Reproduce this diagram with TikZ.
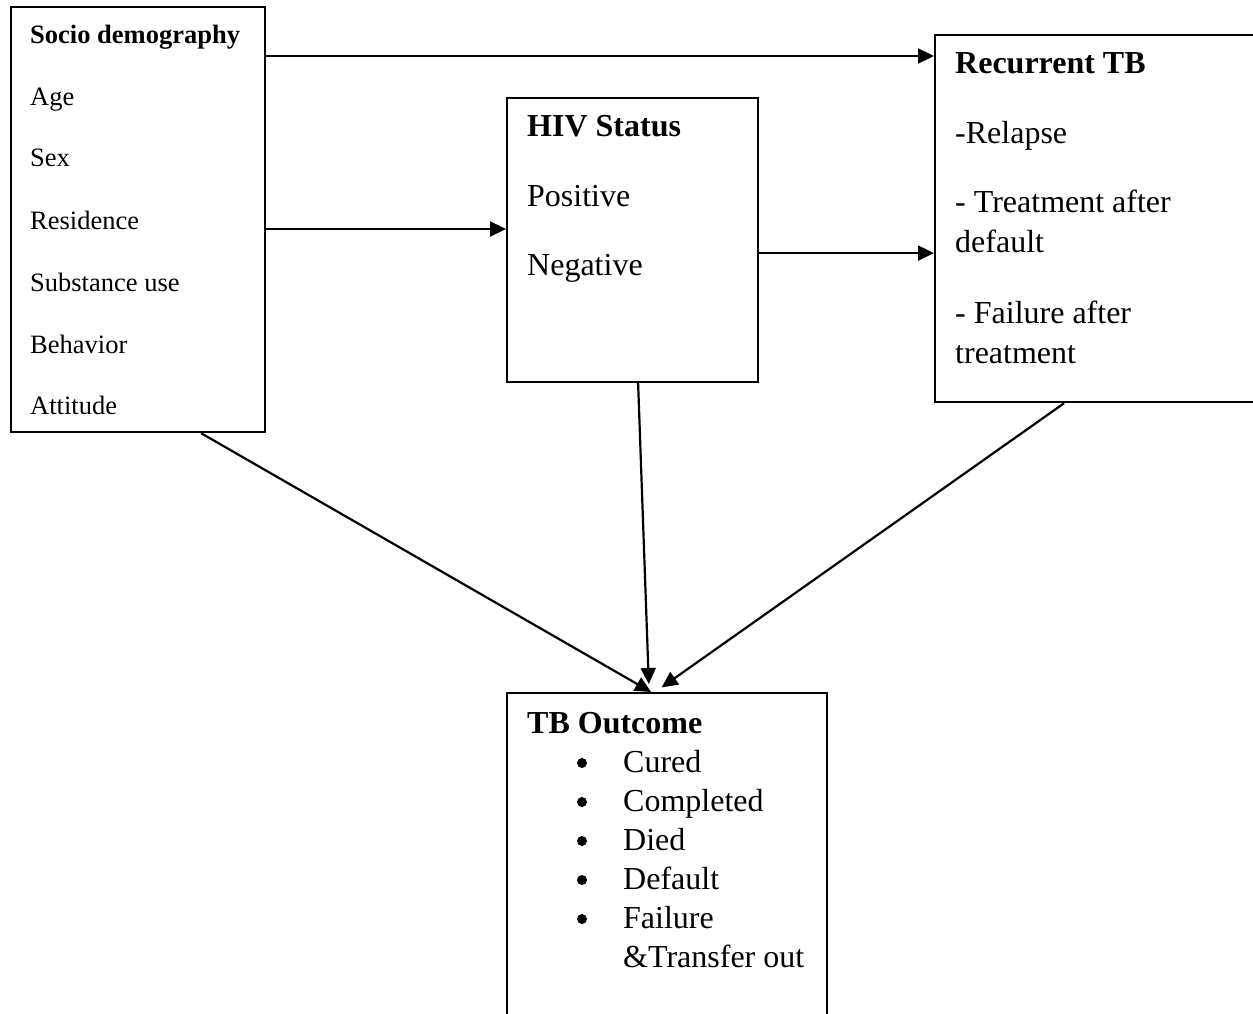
\documentclass[tikz,border=0pt]{standalone}
\usepackage{fontspec}
\setmainfont{Liberation Serif}
\usetikzlibrary{arrows.meta,calc}
\tikzset{
  box/.style={draw=black, line width=2.2pt, anchor=north west, inner sep=0pt},
  lbl/.style={anchor=base west, inner sep=0pt, font=\fontsize{32}{36}\selectfont},
  slbl/.style={anchor=base west, inner sep=0pt, font=\fontsize{26.5}{30}\selectfont},
  conn/.style={line width=2.2pt, -{Triangle[length=16pt,width=15pt]}},
  bul/.style={circle, fill=black, inner sep=0pt, minimum size=10pt},
}
\begin{document}
\begin{tikzpicture}[x=1pt,y=-1pt]
\useasboundingbox (0,0) rectangle (1253,1014);
\clip (0,0) rectangle (1253,1014);
\fill[white] (0,0) rectangle (1253,1014);
% boxes
\node[box, minimum width=254pt, minimum height=425pt] (soc) at (10,6) {};
\node[box, minimum width=251pt, minimum height=284pt] (hiv) at (506,97) {};
\node[box, minimum width=330pt, minimum height=367pt] (rec) at (934,34) {};
\node[box, minimum width=320pt, minimum height=340pt] (out) at (506,692) {};
% socio text
\node[slbl, font=\fontsize{26.5}{30}\selectfont\bfseries] (s0) at (30,44) {Socio demography};
\node[slbl] (s1) at (30,105.5) {Age};
\node[slbl] (s2) at (30,167) {Sex};
\node[slbl] (s3) at (30,229) {Residence};
\node[slbl] (s4) at (30,291) {Substance use};
\node[slbl] (s5) at (30,353) {Behavior};
\node[slbl] (s6) at (30,414) {Attitude};
% HIV text
\node[lbl, font=\fontsize{32}{36}\selectfont\bfseries] (h0) at (527,137) {HIV Status};
\node[lbl] (h1) at (527,206) {Positive};
\node[lbl] (h2) at (527,275) {Negative};
% recurrent text
\node[lbl, font=\fontsize{32}{36}\selectfont\bfseries] (r0) at (955,74) {Recurrent TB};
\node[lbl] (r1) at (955,143) {-Relapse};
\node[lbl] (r2) at (955,212) {- Treatment after};
\node[lbl] (r3) at (955,252) {default};
\node[lbl] (r4) at (955,323) {- Failure after};
\node[lbl] (r5) at (955,363) {treatment};
% outcome text
\node[lbl, font=\fontsize{32}{36}\selectfont\bfseries] (o0) at (527,733) {TB Outcome};
\foreach \i/\t/\yy in {1/Cured/772, 2/Completed/811, 3/Died/850, 4/Default/889, 5/Failure/928}{
  \node[bul] (ob\i) at (582,\yy-9) {};
  \node[lbl] (o\i) at (623,\yy) {\t};
}
\node[lbl] (o6) at (623,967) {\&Transfer out};
% connectors
\draw[conn] ([yshift=-50pt]soc.north east) -- ([yshift=-50pt]soc.north east -| rec.west);
\draw[conn] ([yshift=-223pt]soc.north east) -- ([yshift=-223pt]soc.north east -| hiv.west);
\draw[conn] ([yshift=-13pt]hiv.east) -- ([yshift=-13pt]hiv.east -| rec.west);
\draw[conn] ([xshift=63pt]soc.south) -- ([xshift=-16pt]out.north);
\draw[conn, shorten >=8pt] ([xshift=5.5pt]hiv.south) -- ([xshift=-18pt]out.north);
\draw[conn, shorten >=8pt] ([xshift=-36pt]rec.south) -- ([xshift=-12pt]out.north);
\end{tikzpicture}
\end{document}
